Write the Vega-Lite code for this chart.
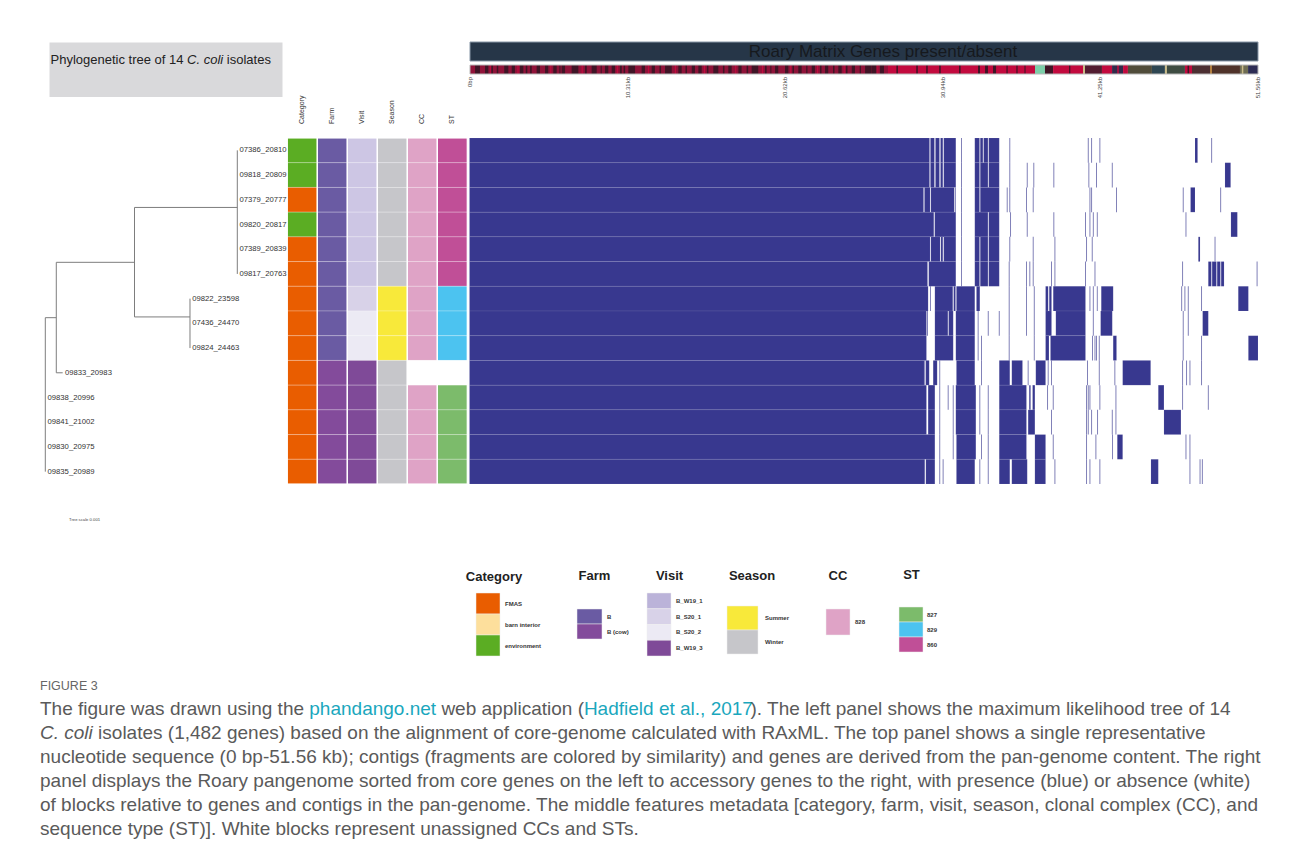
{
  "$schema": "https://vega.github.io/schema/vega-lite/v6.json",
  "width": 1293,
  "height": 861,
  "autosize": {"type": "none"},
  "padding": 0,
  "background": "white",
  "config": {"view": {"stroke": null}, "font": "Liberation Sans"},
  "datasets": {
    "isolates": [
      {"row": 1, "isolate": "07386_20810", "depth": 0.007111, "Category": "environment", "Farm": "B", "Visit": "B_W19_1", "Season": "Winter", "CC": "828", "ST": "860"},
      {"row": 2, "isolate": "09818_20809", "depth": 0.007111, "Category": "environment", "Farm": "B", "Visit": "B_W19_1", "Season": "Winter", "CC": "828", "ST": "860"},
      {"row": 3, "isolate": "07379_20777", "depth": 0.007111, "Category": "FMAS", "Farm": "B", "Visit": "B_W19_1", "Season": "Winter", "CC": "828", "ST": "860"},
      {"row": 4, "isolate": "09820_20817", "depth": 0.007111, "Category": "environment", "Farm": "B", "Visit": "B_W19_1", "Season": "Winter", "CC": "828", "ST": "860"},
      {"row": 5, "isolate": "07389_20839", "depth": 0.007111, "Category": "FMAS", "Farm": "B", "Visit": "B_W19_1", "Season": "Winter", "CC": "828", "ST": "860"},
      {"row": 6, "isolate": "09817_20763", "depth": 0.007111, "Category": "FMAS", "Farm": "B", "Visit": "B_W19_1", "Season": "Winter", "CC": "828", "ST": "860"},
      {"row": 7, "isolate": "09822_23598", "depth": 0.005359, "Category": "FMAS", "Farm": "B", "Visit": "B_S20_1", "Season": "Summer", "CC": "828", "ST": "829"},
      {"row": 8, "isolate": "07436_24470", "depth": 0.005359, "Category": "FMAS", "Farm": "B", "Visit": "B_S20_2", "Season": "Summer", "CC": "828", "ST": "829"},
      {"row": 9, "isolate": "09824_24463", "depth": 0.005359, "Category": "FMAS", "Farm": "B", "Visit": "B_S20_2", "Season": "Summer", "CC": "828", "ST": "829"},
      {"row": 10, "isolate": "09833_20983", "depth": 0.000644, "Category": "FMAS", "Farm": "B (cow)", "Visit": "B_W19_3", "Season": "Winter", "CC": "unassigned", "ST": "unassigned"},
      {"row": 11, "isolate": "09838_20996", "depth": 0, "Category": "FMAS", "Farm": "B (cow)", "Visit": "B_W19_3", "Season": "Winter", "CC": "828", "ST": "827"},
      {"row": 12, "isolate": "09841_21002", "depth": 0, "Category": "FMAS", "Farm": "B (cow)", "Visit": "B_W19_3", "Season": "Winter", "CC": "828", "ST": "827"},
      {"row": 13, "isolate": "09830_20975", "depth": 0, "Category": "FMAS", "Farm": "B (cow)", "Visit": "B_W19_3", "Season": "Winter", "CC": "828", "ST": "827"},
      {"row": 14, "isolate": "09835_20989", "depth": 0, "Category": "FMAS", "Farm": "B (cow)", "Visit": "B_W19_3", "Season": "Winter", "CC": "828", "ST": "827"}
    ],
    "tree": [
      {"x": 0, "x2": 0, "y": 7.27, "y2": 13.5},
      {"x": 0, "x2": 0.000407, "y": 7.27, "y2": 7.27},
      {"x": 0.000407, "x2": 0.000407, "y": 5.03, "y2": 9.5},
      {"x": 0.000407, "x2": 0.000644, "y": 9.5, "y2": 9.5},
      {"x": 0.000407, "x2": 0.003304, "y": 5.03, "y2": 5.03},
      {"x": 0.003304, "x2": 0.003304, "y": 2.81, "y2": 7.24},
      {"x": 0.003304, "x2": 0.007111, "y": 2.81, "y2": 2.81},
      {"x": 0.007111, "x2": 0.007111, "y": 0.5, "y2": 5.5},
      {"x": 0.003304, "x2": 0.005359, "y": 7.24, "y2": 7.24},
      {"x": 0.005359, "x2": 0.005359, "y": 6.5, "y2": 8.5}
    ],
    "blocks": [
      {"row":1,"s":0,"e":30.08},{"row":1,"s":30.14,"e":30.40},{"row":1,"s":30.47,"e":30.73},{"row":1,"s":30.80,"e":30.95},{"row":1,"s":31.01,"e":31.80},{"row":1,"s":33.04,"e":33.35},{"row":1,"s":33.40,"e":33.57},{"row":1,"s":33.62,"e":33.90},{"row":1,"s":33.95,"e":34.64},{"row":1,"s":47.44,"e":47.61},
      {"row":2,"s":0,"e":30.08},{"row":2,"s":30.14,"e":30.40},{"row":2,"s":30.47,"e":30.73},{"row":2,"s":30.80,"e":30.95},{"row":2,"s":31.01,"e":31.80},{"row":2,"s":33.04,"e":33.35},{"row":2,"s":33.40,"e":33.90},{"row":2,"s":33.95,"e":34.64},{"row":2,"s":49.40,"e":49.77},
      {"row":3,"s":0,"e":29.69},{"row":3,"s":29.75,"e":30.12},{"row":3,"s":30.17,"e":31.70},{"row":3,"s":31.76,"e":31.80},{"row":3,"s":33.04,"e":33.35},{"row":3,"s":33.40,"e":34.64},{"row":3,"s":47.15,"e":47.44},
      {"row":4,"s":0,"e":30.36},{"row":4,"s":30.42,"e":31.80},{"row":4,"s":33.04,"e":33.90},{"row":4,"s":33.95,"e":34.64},{"row":4,"s":49.79,"e":50.21},
      {"row":5,"s":0,"e":30.12},{"row":5,"s":30.17,"e":30.78},{"row":5,"s":30.83,"e":30.95},{"row":5,"s":31.01,"e":31.80},{"row":5,"s":33.04,"e":33.35},{"row":5,"s":33.40,"e":33.90},{"row":5,"s":33.95,"e":34.64},{"row":5,"s":47.66,"e":47.77},
      {"row":6,"s":0,"e":29.95},{"row":6,"s":30.03,"e":31.80},{"row":6,"s":33.04,"e":33.35},{"row":6,"s":33.40,"e":33.90},{"row":6,"s":33.95,"e":34.64},{"row":6,"s":48.31,"e":48.51},{"row":6,"s":48.56,"e":48.84},{"row":6,"s":48.89,"e":49.10},{"row":6,"s":49.15,"e":49.34},
      {"row":7,"s":0,"e":29.99},{"row":7,"s":30.43,"e":31.60},{"row":7,"s":31.66,"e":31.78},{"row":7,"s":31.84,"e":33.04},{"row":7,"s":33.15,"e":33.37},{"row":7,"s":37.67,"e":37.84},{"row":7,"s":37.91,"e":38.06},{"row":7,"s":38.17,"e":40.28},{"row":7,"s":41.31,"e":42.09},{"row":7,"s":50.27,"e":50.93},
      {"row":8,"s":0,"e":29.88},{"row":8,"s":30.43,"e":31.28},{"row":8,"s":31.33,"e":31.63},{"row":8,"s":31.80,"e":33.04},{"row":8,"s":37.67,"e":38.06},{"row":8,"s":38.34,"e":40.28},{"row":8,"s":41.27,"e":42.03},{"row":8,"s":47.94,"e":48.31},
      {"row":9,"s":0,"e":29.88},{"row":9,"s":30.43,"e":31.63},{"row":9,"s":31.80,"e":33.04},{"row":9,"s":37.67,"e":37.89},{"row":9,"s":37.99,"e":40.28},{"row":9,"s":42.09,"e":42.31},{"row":9,"s":50.93,"e":51.56},
      {"row":10,"s":0,"e":29.73},{"row":10,"s":29.84,"e":30.06},{"row":10,"s":30.32,"e":30.58},{"row":10,"s":31.84,"e":33.04},{"row":10,"s":34.64,"e":35.33},{"row":10,"s":35.46,"e":36.16},{"row":10,"s":37.03,"e":37.67},{"row":10,"s":42.71,"e":44.54},
      {"row":11,"s":0,"e":29.88},{"row":11,"s":29.99,"e":30.43},{"row":11,"s":31.80,"e":33.11},{"row":11,"s":34.64,"e":36.42},{"row":11,"s":36.60,"e":36.69},{"row":11,"s":36.82,"e":36.97},{"row":11,"s":45.04,"e":45.41},
      {"row":12,"s":0,"e":29.88},{"row":12,"s":29.99,"e":30.43},{"row":12,"s":31.80,"e":33.11},{"row":12,"s":34.64,"e":36.42},{"row":12,"s":36.53,"e":36.97},{"row":12,"s":45.41,"e":46.52},
      {"row":13,"s":0,"e":30.43},{"row":13,"s":31.84,"e":33.11},{"row":13,"s":34.64,"e":36.42},{"row":13,"s":36.97,"e":37.67},{"row":13,"s":42.36,"e":42.71},
      {"row":14,"s":0,"e":29.77},{"row":14,"s":29.84,"e":30.43},{"row":14,"s":31.84,"e":33.04},{"row":14,"s":34.64,"e":35.33},{"row":14,"s":35.46,"e":36.47},{"row":14,"s":36.97,"e":37.67},{"row":14,"s":44.56,"e":45.04}
    ],
    "lines": [
      {"row":1,"kb":32.17},{"row":1,"kb":35.33},{"row":1,"kb":40.46},{"row":1,"kb":40.68},{"row":1,"kb":41.22},{"row":1,"kb":48.53},
      {"row":2,"kb":32.17},{"row":2,"kb":35.33},{"row":2,"kb":36.47},{"row":2,"kb":36.90},{"row":2,"kb":38.21},{"row":2,"kb":40.50},{"row":2,"kb":41.00},{"row":2,"kb":42.03},
      {"row":3,"kb":32.17},{"row":3,"kb":35.16},{"row":3,"kb":35.33},{"row":3,"kb":36.42},{"row":3,"kb":36.86},{"row":3,"kb":40.57},{"row":3,"kb":40.68},{"row":3,"kb":42.31},{"row":3,"kb":46.67},{"row":3,"kb":49.12},
      {"row":4,"kb":32.17},{"row":4,"kb":35.38},{"row":4,"kb":36.47},{"row":4,"kb":38.21},{"row":4,"kb":40.28},{"row":4,"kb":40.57},{"row":4,"kb":40.79},{"row":4,"kb":41.05},{"row":4,"kb":46.85},
      {"row":5,"kb":32.17},{"row":5,"kb":35.33},{"row":5,"kb":36.86},{"row":5,"kb":38.28},{"row":5,"kb":40.35},{"row":5,"kb":40.72},{"row":5,"kb":48.75},
      {"row":6,"kb":32.17},{"row":6,"kb":35.29},{"row":6,"kb":36.42},{"row":6,"kb":36.64},{"row":6,"kb":36.86},{"row":6,"kb":38.06},{"row":6,"kb":38.28},{"row":6,"kb":40.28},{"row":6,"kb":40.90},{"row":6,"kb":46.63},{"row":6,"kb":51.50},
      {"row":7,"kb":30.14},{"row":7,"kb":35.29},{"row":7,"kb":36.42},{"row":7,"kb":36.93},{"row":7,"kb":40.57},{"row":7,"kb":40.79},{"row":7,"kb":41.05},{"row":7,"kb":46.57},{"row":7,"kb":46.78},{"row":7,"kb":47.00},{"row":7,"kb":47.87},
      {"row":8,"kb":29.95},{"row":8,"kb":33.26},{"row":8,"kb":33.92},{"row":8,"kb":34.64},{"row":8,"kb":35.29},{"row":8,"kb":36.42},{"row":8,"kb":36.93},{"row":8,"kb":40.79},{"row":8,"kb":46.67},{"row":8,"kb":47.00},
      {"row":9,"kb":33.26},{"row":9,"kb":33.48},{"row":9,"kb":35.29},{"row":9,"kb":36.93},{"row":9,"kb":40.74},{"row":9,"kb":40.90},{"row":9,"kb":41.00},{"row":9,"kb":41.18},{"row":9,"kb":46.67},{"row":9,"kb":47.87},
      {"row":10,"kb":29.77},{"row":10,"kb":30.75},{"row":10,"kb":33.48},{"row":10,"kb":36.53},{"row":10,"kb":37.84},{"row":10,"kb":38.06},{"row":10,"kb":40.41},{"row":10,"kb":41.18},{"row":10,"kb":42.20},{"row":10,"kb":46.63},{"row":10,"kb":46.89},{"row":10,"kb":47.11},{"row":10,"kb":47.87},
      {"row":11,"kb":30.75},{"row":11,"kb":31.30},{"row":11,"kb":31.63},{"row":11,"kb":33.37},{"row":11,"kb":33.92},{"row":11,"kb":37.80},{"row":11,"kb":38.17},{"row":11,"kb":40.35},{"row":11,"kb":40.46},{"row":11,"kb":40.57},{"row":11,"kb":41.22},{"row":11,"kb":42.27},{"row":11,"kb":46.63},{"row":11,"kb":48.31},
      {"row":12,"kb":30.75},{"row":12,"kb":31.63},{"row":12,"kb":33.37},{"row":12,"kb":33.92},{"row":12,"kb":38.06},{"row":12,"kb":40.35},{"row":12,"kb":40.46},{"row":12,"kb":40.68},{"row":12,"kb":41.07},{"row":12,"kb":42.03},{"row":12,"kb":42.27},
      {"row":13,"kb":30.75},{"row":13,"kb":31.63},{"row":13,"kb":33.48},{"row":13,"kb":33.92},{"row":13,"kb":38.17},{"row":13,"kb":40.35},{"row":13,"kb":40.96},{"row":13,"kb":42.05},{"row":13,"kb":46.85},{"row":13,"kb":47.11},
      {"row":14,"kb":30.75},{"row":14,"kb":30.97},{"row":14,"kb":33.37},{"row":14,"kb":33.92},{"row":14,"kb":38.28},{"row":14,"kb":40.35},{"row":14,"kb":40.57},{"row":14,"kb":41.22},{"row":14,"kb":47.11},{"row":14,"kb":47.77},{"row":14,"kb":47.92}
    ],
    "contigs": [
      {"s":0,"e":27.35,"contig":"c0"},
      {"s":27.35,"e":36.97,"contig":"c1"},
      {"s":0.33,"e":0.65,"contig":"c2"},{"s":0.98,"e":1.20,"contig":"c2"},{"s":1.40,"e":1.50,"contig":"c2"},{"s":1.75,"e":1.85,"contig":"c2"},{"s":2.24,"e":2.51,"contig":"c2"},{"s":2.73,"e":2.94,"contig":"c2"},{"s":3.27,"e":3.49,"contig":"c2"},{"s":3.65,"e":3.75,"contig":"c2"},{"s":3.93,"e":4.04,"contig":"c2"},{"s":4.36,"e":4.58,"contig":"c2"},{"s":4.91,"e":5.12,"contig":"c2"},{"s":5.45,"e":5.67,"contig":"c2"},{"s":5.85,"e":5.92,"contig":"c2"},{"s":6.00,"e":6.22,"contig":"c2"},{"s":6.65,"e":7.09,"contig":"c2"},{"s":7.52,"e":7.64,"contig":"c2"},{"s":7.96,"e":8.29,"contig":"c2"},{"s":8.55,"e":8.62,"contig":"c2"},{"s":8.83,"e":9.05,"contig":"c2"},{"s":9.27,"e":9.49,"contig":"c2"},{"s":9.81,"e":9.93,"contig":"c2"},{"s":10.05,"e":10.15,"contig":"c2"},{"s":10.36,"e":10.80,"contig":"c2"},{"s":11.23,"e":11.45,"contig":"c2"},{"s":11.89,"e":12.10,"contig":"c2"},{"s":12.40,"e":12.50,"contig":"c2"},{"s":12.76,"e":13.20,"contig":"c2"},{"s":13.63,"e":13.85,"contig":"c2"},{"s":14.10,"e":14.20,"contig":"c2"},{"s":14.51,"e":14.72,"contig":"c2"},{"s":14.94,"e":15.16,"contig":"c2"},{"s":15.50,"e":15.60,"contig":"c2"},{"s":15.92,"e":16.25,"contig":"c2"},{"s":16.55,"e":16.65,"contig":"c2"},{"s":16.90,"e":17.12,"contig":"c2"},{"s":17.56,"e":17.77,"contig":"c2"},{"s":18.10,"e":18.20,"contig":"c2"},{"s":18.43,"e":18.86,"contig":"c2"},{"s":19.30,"e":19.41,"contig":"c2"},{"s":19.65,"e":19.72,"contig":"c2"},{"s":19.96,"e":20.17,"contig":"c2"},{"s":20.61,"e":20.83,"contig":"c2"},{"s":21.10,"e":21.20,"contig":"c2"},{"s":21.48,"e":21.70,"contig":"c2"},{"s":22.00,"e":22.08,"contig":"c2"},{"s":22.36,"e":22.57,"contig":"c2"},{"s":22.90,"e":23.00,"contig":"c2"},{"s":23.23,"e":23.44,"contig":"c2"},{"s":23.75,"e":23.85,"contig":"c2"},{"s":24.10,"e":24.32,"contig":"c2"},{"s":24.60,"e":24.70,"contig":"c2"},{"s":24.98,"e":25.19,"contig":"c2"},{"s":25.50,"e":25.58,"contig":"c2"},{"s":25.85,"e":26.28,"contig":"c2"},{"s":26.30,"e":26.57,"contig":"c2"},{"s":26.83,"e":27.09,"contig":"c2"},
      {"s":1.30,"e":1.36,"contig":"c1"},{"s":3.10,"e":3.18,"contig":"c1"},{"s":5.25,"e":5.32,"contig":"c1"},{"s":7.30,"e":7.38,"contig":"c1"},{"s":9.60,"e":9.68,"contig":"c1"},{"s":11.65,"e":11.72,"contig":"c1"},{"s":13.40,"e":13.48,"contig":"c1"},{"s":15.30,"e":15.38,"contig":"c1"},{"s":17.35,"e":17.42,"contig":"c1"},{"s":19.10,"e":19.18,"contig":"c1"},{"s":20.95,"e":21.02,"contig":"c1"},{"s":22.70,"e":22.78,"contig":"c1"},{"s":24.45,"e":24.52,"contig":"c1"},{"s":26.65,"e":26.72,"contig":"c1"},
      {"s":27.90,"e":28.00,"contig":"c2"},{"s":29.20,"e":29.30,"contig":"c2"},{"s":29.85,"e":29.95,"contig":"c2"},{"s":30.70,"e":30.80,"contig":"c2"},{"s":32.00,"e":32.10,"contig":"c2"},{"s":33.24,"e":33.37,"contig":"c2"},{"s":33.70,"e":33.89,"contig":"c2"},{"s":34.22,"e":34.42,"contig":"c2"},{"s":35.10,"e":35.18,"contig":"c2"},{"s":35.75,"e":35.83,"contig":"c2"},{"s":36.28,"e":36.35,"contig":"c2"},
      {"s":36.97,"e":37.62,"contig":"c3"},
      {"s":37.62,"e":38.15,"contig":"c2"},
      {"s":38.15,"e":40.11,"contig":"c1"},{"s":39.20,"e":39.28,"contig":"c2"},
      {"s":40.11,"e":40.24,"contig":"c4"},
      {"s":40.24,"e":41.35,"contig":"c5"},
      {"s":41.35,"e":42.01,"contig":"c1"},
      {"s":42.01,"e":42.73,"contig":"c6"},{"s":42.35,"e":42.45,"contig":"c1"},
      {"s":42.73,"e":43.05,"contig":"c1"},
      {"s":43.05,"e":44.62,"contig":"c7"},
      {"s":44.62,"e":45.47,"contig":"c8"},
      {"s":45.47,"e":45.60,"contig":"c4"},
      {"s":45.60,"e":46.78,"contig":"c9"},
      {"s":46.78,"e":47.24,"contig":"c1"},{"s":46.95,"e":47.05,"contig":"c2"},
      {"s":47.24,"e":48.42,"contig":"c10"},
      {"s":48.42,"e":48.55,"contig":"c11"},
      {"s":48.55,"e":50.38,"contig":"c12"},
      {"s":50.38,"e":50.91,"contig":"c13"},{"s":50.50,"e":50.60,"contig":"c4"},
      {"s":50.91,"e":51.56,"contig":"c14"}
    ]
  },
  "layer": [
    {"data": {"values": [{}]}, "mark": {"type": "rule", "x": 9.5, "y": 0, "y2": 861, "color": "#a0a0a0", "strokeWidth": 1}, "encoding": {}},

    {"data": {"values": [{}]}, "mark": {"type": "rect", "x": 49.5, "x2": 282.5, "y": 42.5, "y2": 97, "fill": "#d9d9db"}, "encoding": {}},
    {"data": {"values": [{}]}, "mark": {"type": "rule", "x": 49.5, "x2": 282.5, "y": 69.5, "color": "#8a8a8a", "strokeWidth": 1}, "encoding": {}},
    {"data": {"values": [{}]}, "mark": {"type": "text", "x": 50.5, "y": 59.5, "text": "Phylogenetic tree of 14", "align": "left", "baseline": "middle", "fontSize": 13, "color": "#222222"}},
    {"data": {"values": [{}]}, "mark": {"type": "text", "x": 187.1, "y": 59.5, "text": "C. coli", "align": "left", "baseline": "middle", "fontSize": 13, "fontStyle": "italic", "color": "#222222"}},
    {"data": {"values": [{}]}, "mark": {"type": "text", "x": 226.8, "y": 59.5, "text": "isolates", "align": "left", "baseline": "middle", "fontSize": 13, "color": "#222222"}},

    {"data": {"values": [{}]}, "mark": {"type": "rect", "x": 470, "x2": 1258, "y": 42, "y2": 61, "fill": "#263648", "stroke": "#8796a6", "strokeWidth": 1}, "encoding": {}},
    {"data": {"values": [{}]}, "mark": {"type": "text", "x": 883, "y": 51.5, "text": "Roary Matrix Genes present/absent", "align": "center", "baseline": "middle", "fontSize": 17, "color": "#16191d"}},

    {"data": {"name": "contigs"}, "mark": {"type": "rect", "y": 65, "y2": 74},
     "encoding": {
       "x": {"field": "s", "type": "quantitative", "scale": {"domain": [0, 51.56], "range": [470, 1258], "nice": false, "zero": false}, "axis": null},
       "x2": {"field": "e"},
       "color": {"field": "contig", "type": "nominal", "legend": null, "scale": {"domain": ["c0","c1","c2","c3","c4","c5","c6","c7","c8","c9","c10","c11","c12","c13","c14"], "range": ["#8f1339","#c20a3e","#3f1526","#7ccfa9","#c9bb88","#521c30","#322a4a","#504c3a","#2e4652","#3e4c42","#4c2f32","#b37f40","#4f3229","#6f6d54","#2d2c54"]}}
     }},
    {"data": {"values": [{}]}, "mark": {"type": "rect", "x": 470, "x2": 1258, "y": 65, "y2": 74, "fill": "transparent", "stroke": "#b8b8b8", "strokeWidth": 1}, "encoding": {}},
    {"data": {"values": [{"kb": 0, "label": "0bp"}, {"kb": 10.31, "label": "10.31kb"}, {"kb": 20.62, "label": "20.62kb"}, {"kb": 30.94, "label": "30.94kb"}, {"kb": 41.25, "label": "41.25kb"}, {"kb": 51.56, "label": "51.56kb"}]},
     "mark": {"type": "text", "y": 77, "angle": 270, "align": "right", "baseline": "middle", "fontSize": 6, "color": "#444444"},
     "encoding": {
       "x": {"field": "kb", "type": "quantitative", "scale": {"domain": [0, 51.56], "range": [470, 1258], "nice": false, "zero": false}, "axis": null},
       "text": {"field": "label"}
     }},

    {"data": {"values": [{"column": "Category"}, {"column": "Farm"}, {"column": "Visit"}, {"column": "Season"}, {"column": "CC"}, {"column": "ST"}]},
     "mark": {"type": "text", "y": 124, "angle": 270, "align": "left", "baseline": "middle", "fontSize": 7, "color": "#333333"},
     "encoding": {
       "x": {"field": "column", "type": "nominal", "scale": {"type": "band", "domain": ["Category","Farm","Visit","Season","CC","ST"], "range": [287.3, 467.3], "paddingInner": 0, "paddingOuter": 0}, "axis": null},
       "text": {"field": "column"}
     }},

    {"data": {"name": "isolates"},
     "transform": [{"fold": ["Category","Farm","Visit","Season","CC","ST"], "as": ["column","value"]}],
     "mark": {"type": "rect", "stroke": "#ffffff", "strokeWidth": 0.8, "strokeOpacity": 0.3},
     "encoding": {
       "x": {"field": "column", "type": "nominal", "scale": {"type": "band", "domain": ["Category","Farm","Visit","Season","CC","ST"], "range": [287.3, 467.3], "paddingInner": 0, "paddingOuter": 0}, "axis": null},
       "y": {"field": "row", "type": "ordinal", "scale": {"type": "band", "domain": [1,2,3,4,5,6,7,8,9,10,11,12,13,14], "range": [138, 484], "paddingInner": 0, "paddingOuter": 0}, "axis": null},
       "color": {"field": "value", "type": "nominal", "legend": null, "scale": {
         "domain": ["FMAS","barn interior","environment","B","B (cow)","B_W19_1","B_S20_1","B_S20_2","B_W19_3","Summer","Winter","828","827","829","860","unassigned"],
         "range": ["#e95d00","#fddf9c","#5bad23","#6a5ba3","#834b9b","#cdc6e4","#d8d2e8","#eceaf4","#7f4a98","#f8e93a","#c6c6ca","#dfa3c6","#7cbb6b","#4cc3f0","#c04f97","#ffffff"]}}
     }},
    {"data": {"values": [{"column": "Category"}, {"column": "Farm"}, {"column": "Visit"}, {"column": "Season"}, {"column": "CC"}, {"column": "ST"}]},
     "mark": {"type": "rect", "y": 138, "y2": 484, "fill": "transparent", "stroke": "#ffffff", "strokeWidth": 1.2},
     "encoding": {
       "x": {"field": "column", "type": "nominal", "scale": {"type": "band", "domain": ["Category","Farm","Visit","Season","CC","ST"], "range": [287.3, 467.3], "paddingInner": 0, "paddingOuter": 0}, "axis": null}
     }},

    {"data": {"name": "tree"},
     "mark": {"type": "rule", "color": "#7d7d7d", "strokeWidth": 1},
     "encoding": {
       "x": {"field": "x", "type": "quantitative", "scale": {"domain": [0, 0.001], "range": [45.3, 72.3], "nice": false, "zero": false}, "axis": null},
       "x2": {"field": "x2"},
       "y": {"field": "y", "type": "quantitative", "scale": {"domain": [0, 14], "range": [138, 484], "nice": false, "zero": false}, "axis": null},
       "y2": {"field": "y2"}
     }},
    {"data": {"name": "isolates"},
     "mark": {"type": "text", "align": "left", "baseline": "middle", "dx": 2.2, "fontSize": 7.7, "color": "#333333"},
     "encoding": {
       "x": {"field": "depth", "type": "quantitative", "scale": {"domain": [0, 0.001], "range": [45.3, 72.3], "nice": false, "zero": false}, "axis": null},
       "y": {"field": "row", "type": "ordinal", "scale": {"type": "band", "domain": [1,2,3,4,5,6,7,8,9,10,11,12,13,14], "range": [138, 484], "paddingInner": 0, "paddingOuter": 0}, "axis": null},
       "text": {"field": "isolate"}
     }},
    {"data": {"values": [{}]}, "mark": {"type": "text", "x": 69, "y": 519.5, "text": "Tree scale 0.001", "align": "left", "baseline": "middle", "fontSize": 4.2, "color": "#444444"}},
    {"data": {"values": [{}]}, "mark": {"type": "rule", "x": 103, "x2": 130, "y": 519.5, "color": "#bdbdbd", "strokeWidth": 1.2}, "encoding": {}},

    {"data": {"name": "blocks"},
     "mark": {"type": "rect", "color": "#38388f", "stroke": "#ffffff", "strokeWidth": 1, "strokeOpacity": 0.07},
     "encoding": {
       "x": {"field": "s", "type": "quantitative", "scale": {"domain": [0, 51.56], "range": [469.5, 1258], "nice": false, "zero": false}, "axis": null},
       "x2": {"field": "e"},
       "y": {"field": "row", "type": "ordinal", "scale": {"type": "band", "domain": [1,2,3,4,5,6,7,8,9,10,11,12,13,14], "range": [138, 484], "paddingInner": 0, "paddingOuter": 0}, "axis": null}
     }},
    {"data": {"name": "lines"},
     "mark": {"type": "tick", "thickness": 0.9, "size": 24.7, "color": "#38388f", "opacity": 0.7},
     "encoding": {
       "x": {"field": "kb", "type": "quantitative", "scale": {"domain": [0, 51.56], "range": [469.5, 1258], "nice": false, "zero": false}, "axis": null},
       "y": {"field": "row", "type": "ordinal", "scale": {"type": "band", "domain": [1,2,3,4,5,6,7,8,9,10,11,12,13,14], "range": [138, 484], "paddingInner": 0, "paddingOuter": 0}, "axis": null}
     }},

    {"data": {"values": [{}]}, "mark": {"type": "text", "x": 494, "y": 576.5, "text": "Category", "align": "center", "baseline": "middle", "fontSize": 13, "fontWeight": "bold", "color": "#222222"}},
    {"data": {"values": [{}]}, "mark": {"type": "text", "x": 594.5, "y": 576, "text": "Farm", "align": "center", "baseline": "middle", "fontSize": 13, "fontWeight": "bold", "color": "#222222"}},
    {"data": {"values": [{}]}, "mark": {"type": "text", "x": 669.5, "y": 575.5, "text": "Visit", "align": "center", "baseline": "middle", "fontSize": 13, "fontWeight": "bold", "color": "#222222"}},
    {"data": {"values": [{}]}, "mark": {"type": "text", "x": 752, "y": 575.5, "text": "Season", "align": "center", "baseline": "middle", "fontSize": 13, "fontWeight": "bold", "color": "#222222"}},
    {"data": {"values": [{}]}, "mark": {"type": "text", "x": 838, "y": 575.5, "text": "CC", "align": "center", "baseline": "middle", "fontSize": 13, "fontWeight": "bold", "color": "#222222"}},
    {"data": {"values": [{}]}, "mark": {"type": "text", "x": 911.5, "y": 574.5, "text": "ST", "align": "center", "baseline": "middle", "fontSize": 13, "fontWeight": "bold", "color": "#222222"}},

    {"data": {"values": [{"entry": "FMAS"}, {"entry": "barn interior"}, {"entry": "environment"}]},
     "layer": [
       {"mark": {"type": "rect", "x": 476, "x2": 500, "stroke": "#eeeeee", "strokeWidth": 0.5},
        "encoding": {
          "y": {"field": "entry", "type": "nominal", "scale": {"type": "band", "domain": ["FMAS","barn interior","environment"], "range": [593, 656], "paddingInner": 0, "paddingOuter": 0}, "axis": null},
          "color": {"field": "entry", "type": "nominal", "legend": null, "scale": {"domain": ["FMAS","barn interior","environment"], "range": ["#e95d00","#fddf9c","#5bad23"]}}}},
       {"mark": {"type": "text", "x": 505, "align": "left", "baseline": "middle", "fontSize": 6, "fontWeight": "bold", "color": "#333333"},
        "encoding": {
          "y": {"field": "entry", "type": "nominal", "scale": {"type": "band", "domain": ["FMAS","barn interior","environment"], "range": [593, 656], "paddingInner": 0, "paddingOuter": 0}, "axis": null},
          "text": {"field": "entry"}}}
     ]},
    {"data": {"values": [{"entry": "B"}, {"entry": "B (cow)"}]},
     "layer": [
       {"mark": {"type": "rect", "x": 577, "x2": 602, "stroke": "#eeeeee", "strokeWidth": 0.5},
        "encoding": {
          "y": {"field": "entry", "type": "nominal", "scale": {"type": "band", "domain": ["B","B (cow)"], "range": [609, 639], "paddingInner": 0, "paddingOuter": 0}, "axis": null},
          "color": {"field": "entry", "type": "nominal", "legend": null, "scale": {"domain": ["B","B (cow)"], "range": ["#6a5ba3","#834b9b"]}}}},
       {"mark": {"type": "text", "x": 607, "align": "left", "baseline": "middle", "fontSize": 6, "fontWeight": "bold", "color": "#333333"},
        "encoding": {
          "y": {"field": "entry", "type": "nominal", "scale": {"type": "band", "domain": ["B","B (cow)"], "range": [609, 639], "paddingInner": 0, "paddingOuter": 0}, "axis": null},
          "text": {"field": "entry"}}}
     ]},
    {"data": {"values": [{"entry": "B_W19_1"}, {"entry": "B_S20_1"}, {"entry": "B_S20_2"}, {"entry": "B_W19_3"}]},
     "layer": [
       {"mark": {"type": "rect", "x": 647, "x2": 671, "stroke": "#eeeeee", "strokeWidth": 0.5},
        "encoding": {
          "y": {"field": "entry", "type": "nominal", "scale": {"type": "band", "domain": ["B_W19_1","B_S20_1","B_S20_2","B_W19_3"], "range": [593, 656], "paddingInner": 0, "paddingOuter": 0}, "axis": null},
          "color": {"field": "entry", "type": "nominal", "legend": null, "scale": {"domain": ["B_W19_1","B_S20_1","B_S20_2","B_W19_3"], "range": ["#bbb3d9","#d8d2e8","#eceaf4","#7f4a98"]}}}},
       {"mark": {"type": "text", "x": 676, "align": "left", "baseline": "middle", "fontSize": 6, "fontWeight": "bold", "color": "#333333"},
        "encoding": {
          "y": {"field": "entry", "type": "nominal", "scale": {"type": "band", "domain": ["B_W19_1","B_S20_1","B_S20_2","B_W19_3"], "range": [593, 656], "paddingInner": 0, "paddingOuter": 0}, "axis": null},
          "text": {"field": "entry"}}}
     ]},
    {"data": {"values": [{"entry": "Summer"}, {"entry": "Winter"}]},
     "layer": [
       {"mark": {"type": "rect", "x": 727, "x2": 758, "stroke": "#eeeeee", "strokeWidth": 0.5},
        "encoding": {
          "y": {"field": "entry", "type": "nominal", "scale": {"type": "band", "domain": ["Summer","Winter"], "range": [606, 654], "paddingInner": 0, "paddingOuter": 0}, "axis": null},
          "color": {"field": "entry", "type": "nominal", "legend": null, "scale": {"domain": ["Summer","Winter"], "range": ["#f8e93a","#c6c6ca"]}}}},
       {"mark": {"type": "text", "x": 765, "align": "left", "baseline": "middle", "fontSize": 6, "fontWeight": "bold", "color": "#333333"},
        "encoding": {
          "y": {"field": "entry", "type": "nominal", "scale": {"type": "band", "domain": ["Summer","Winter"], "range": [606, 654], "paddingInner": 0, "paddingOuter": 0}, "axis": null},
          "text": {"field": "entry"}}}
     ]},
    {"data": {"values": [{"entry": "828"}]},
     "layer": [
       {"mark": {"type": "rect", "x": 826, "x2": 850, "stroke": "#eeeeee", "strokeWidth": 0.5},
        "encoding": {
          "y": {"field": "entry", "type": "nominal", "scale": {"type": "band", "domain": ["828"], "range": [609, 635], "paddingInner": 0, "paddingOuter": 0}, "axis": null},
          "color": {"field": "entry", "type": "nominal", "legend": null, "scale": {"domain": ["828"], "range": ["#dfa3c6"]}}}},
       {"mark": {"type": "text", "x": 855, "align": "left", "baseline": "middle", "fontSize": 6, "fontWeight": "bold", "color": "#333333"},
        "encoding": {
          "y": {"field": "entry", "type": "nominal", "scale": {"type": "band", "domain": ["828"], "range": [609, 635], "paddingInner": 0, "paddingOuter": 0}, "axis": null},
          "text": {"field": "entry"}}}
     ]},
    {"data": {"values": [{"entry": "827"}, {"entry": "829"}, {"entry": "860"}]},
     "layer": [
       {"mark": {"type": "rect", "x": 899, "x2": 923, "stroke": "#eeeeee", "strokeWidth": 0.5},
        "encoding": {
          "y": {"field": "entry", "type": "nominal", "scale": {"type": "band", "domain": ["827","829","860"], "range": [607, 652], "paddingInner": 0, "paddingOuter": 0}, "axis": null},
          "color": {"field": "entry", "type": "nominal", "legend": null, "scale": {"domain": ["827","829","860"], "range": ["#7cbb6b","#4cc3f0","#c04f97"]}}}},
       {"mark": {"type": "text", "x": 927, "align": "left", "baseline": "middle", "fontSize": 6, "fontWeight": "bold", "color": "#333333"},
        "encoding": {
          "y": {"field": "entry", "type": "nominal", "scale": {"type": "band", "domain": ["827","829","860"], "range": [607, 652], "paddingInner": 0, "paddingOuter": 0}, "axis": null},
          "text": {"field": "entry"}}}
     ]},

    {"data": {"values": [{}]}, "mark": {"type": "text", "x": 40, "y": 686, "text": "FIGURE 3", "align": "left", "baseline": "middle", "fontSize": 12.5, "color": "#666666"}},
    {"data": {"values": [{}]}, "mark": {"type": "text", "x": 40, "y": 709, "text": "The figure was drawn using the", "align": "left", "baseline": "middle", "fontSize": 19, "color": "#5a5a5a"}},
    {"data": {"values": [{}]}, "mark": {"type": "text", "x": 309.3, "y": 709, "text": "phandango.net", "align": "left", "baseline": "middle", "fontSize": 19, "color": "#1aa7bd"}},
    {"data": {"values": [{}]}, "mark": {"type": "text", "x": 441.4, "y": 709, "text": "web application (", "align": "left", "baseline": "middle", "fontSize": 19, "color": "#5a5a5a"}},
    {"data": {"values": [{}]}, "mark": {"type": "text", "x": 583.9, "y": 709, "text": "Hadfield et al., 2017", "align": "left", "baseline": "middle", "fontSize": 19, "color": "#1aa7bd"}},
    {"data": {"values": [{}]}, "mark": {"type": "text", "x": 750.5, "y": 709, "text": "). The left panel shows the maximum likelihood tree of 14", "align": "left", "baseline": "middle", "fontSize": 19, "color": "#5a5a5a"}},
    {"data": {"values": [{}]}, "mark": {"type": "text", "x": 40, "y": 733, "text": "C. coli", "align": "left", "baseline": "middle", "fontSize": 19, "fontStyle": "italic", "color": "#5a5a5a"}},
    {"data": {"values": [{}]}, "mark": {"type": "text", "x": 98.1, "y": 733, "text": "isolates (1,482 genes) based on the alignment of core-genome calculated with RAxML. The top panel shows a single representative", "align": "left", "baseline": "middle", "fontSize": 19, "color": "#5a5a5a"}},
    {"data": {"values": [{}]}, "mark": {"type": "text", "x": 40, "y": 757, "text": "nucleotide sequence (0 bp-51.56 kb); contigs (fragments are colored by similarity) and genes are derived from the pan-genome content. The right", "align": "left", "baseline": "middle", "fontSize": 19, "color": "#5a5a5a"}},
    {"data": {"values": [{}]}, "mark": {"type": "text", "x": 40, "y": 781, "text": "panel displays the Roary pangenome sorted from core genes on the left to accessory genes to the right, with presence (blue) or absence (white)", "align": "left", "baseline": "middle", "fontSize": 19, "color": "#5a5a5a"}},
    {"data": {"values": [{}]}, "mark": {"type": "text", "x": 40, "y": 805, "text": "of blocks relative to genes and contigs in the pan-genome. The middle features metadata [category, farm, visit, season, clonal complex (CC), and", "align": "left", "baseline": "middle", "fontSize": 19, "color": "#5a5a5a"}},
    {"data": {"values": [{}]}, "mark": {"type": "text", "x": 40, "y": 829, "text": "sequence type (ST)]. White blocks represent unassigned CCs and STs.", "align": "left", "baseline": "middle", "fontSize": 19, "color": "#5a5a5a"}}
  ],
  "resolve": {"scale": {"x": "independent", "y": "independent", "color": "independent"}}
}
